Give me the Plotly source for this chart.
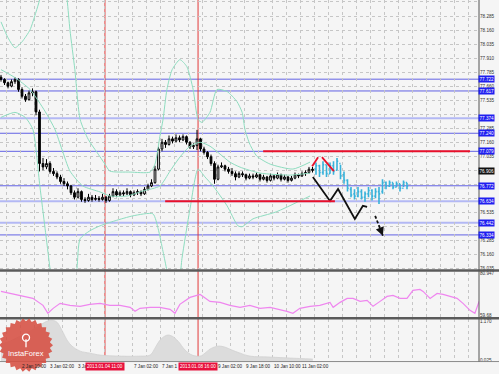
import math
import plotly.graph_objects as go
from plotly.subplots import make_subplots

W, H = 499, 374
PR = 479          # right edge of the plot area in px
PXB = 3.5         # px per bar

# ---------------- data ----------------
bar_open = [77.74,77.72,77.69,77.66,77.70,77.72,77.63,77.57,77.54,77.60,
            77.61,77.43,76.97,76.94,76.97,76.90,76.88,76.85,76.81,76.79,
            76.77,76.71,76.67,76.72,76.65,76.64,76.67,76.65,76.66,76.65,
            76.67,76.64,76.68,76.72,76.69,76.71,76.70,76.72,76.69,76.71,
            76.72,76.70,76.74,76.77,76.80,76.92,77.10,77.16,77.14,77.19,
            77.17,77.20,77.18,77.21,77.16,77.12,77.13,77.19,77.10,77.07,
            77.03,76.97,76.83,76.94,76.95,76.92,76.90,76.88,76.85,76.88,
            76.87,76.84,76.86,76.85,76.87,76.83,76.85,76.82,76.86,76.84,
            76.87,76.83,76.85,76.82,76.84,76.87,76.86,76.88,76.89,76.92]
bar_high = [77.76,77.73,77.70,77.72,77.74,77.73,77.65,77.59,77.62,77.64,
            77.62,77.45,77.02,77.01,76.99,76.93,76.90,76.87,76.84,76.81,
            76.78,76.73,76.75,76.73,76.67,76.70,76.69,76.69,76.68,76.70,
            76.68,76.70,76.75,76.74,76.73,76.73,76.75,76.73,76.73,76.74,
            76.73,76.76,76.79,76.83,76.95,77.12,77.19,77.18,77.22,77.21,
            77.23,77.22,77.23,77.22,77.17,77.15,77.27,77.20,77.12,77.08,
            77.05,76.99,76.96,76.98,76.96,76.94,76.93,76.90,76.90,76.90,
            76.88,76.88,76.88,76.89,76.88,76.87,76.86,76.88,76.87,76.89,
            76.88,76.87,76.86,76.86,76.89,76.88,76.90,76.91,76.94,76.94]
bar_low = [77.70,77.67,77.64,77.65,77.68,77.61,77.55,77.52,77.53,77.57,
           77.40,76.90,76.91,76.92,76.88,76.86,76.83,76.79,76.77,76.74,
           76.69,76.65,76.66,76.63,76.62,76.63,76.63,76.64,76.63,76.64,
           76.62,76.63,76.67,76.67,76.68,76.68,76.69,76.67,76.68,76.69,
           76.68,76.69,76.73,76.76,76.79,76.91,77.08,77.11,77.13,77.15,
           77.16,77.16,77.17,77.14,77.10,77.10,77.09,77.08,77.05,77.01,
           76.95,76.79,76.82,76.93,76.90,76.88,76.86,76.82,76.84,76.85,
           76.82,76.83,76.83,76.84,76.81,76.82,76.80,76.81,76.82,76.83,
           76.81,76.82,76.80,76.81,76.83,76.84,76.85,76.86,76.88,76.89]
bar_close = [77.72,77.69,77.66,77.70,77.72,77.63,77.57,77.54,77.60,77.61,
             77.43,76.97,76.94,76.97,76.90,76.88,76.85,76.81,76.79,76.77,
             76.71,76.67,76.72,76.65,76.64,76.67,76.65,76.66,76.65,76.67,
             76.64,76.68,76.72,76.69,76.71,76.70,76.72,76.69,76.71,76.72,
             76.70,76.74,76.77,76.80,76.92,77.10,77.16,77.14,77.19,77.17,
             77.20,77.18,77.21,77.16,77.12,77.13,77.19,77.10,77.07,77.03,
             76.97,76.83,76.94,76.95,76.92,76.90,76.88,76.85,76.88,76.87,
             76.84,76.86,76.85,76.87,76.83,76.85,76.82,76.86,76.84,76.87,
             76.83,76.85,76.82,76.84,76.87,76.86,76.88,76.89,76.92,76.91]

fc_open = [76.92,76.95,76.89,76.96,76.88,76.95,76.91,76.97,76.87,76.82,76.74,76.70,76.68,76.72,
           76.67,76.70,76.73,76.68,76.72,76.72,76.80,76.77,76.80,76.76,76.79,76.75,76.80]
fc_high = [76.98,76.96,76.99,76.96,76.98,76.99,77.02,76.96,76.90,76.83,76.76,76.74,76.76,76.74,
           76.72,76.76,76.74,76.75,76.76,76.83,76.81,76.82,76.80,76.81,76.79,76.82,76.80]
fc_low = [76.87,76.85,76.87,76.85,76.88,76.87,76.91,76.83,76.79,76.72,76.67,76.65,76.67,76.65,
          76.63,76.67,76.64,76.66,76.61,76.70,76.74,76.76,76.74,76.76,76.72,76.76,76.74]
fc_close = [76.95,76.89,76.96,76.88,76.95,76.90,76.99,76.86,76.82,76.75,76.69,76.68,76.72,76.67,
            76.70,76.73,76.68,76.72,76.70,76.80,76.77,76.80,76.76,76.79,76.75,76.80,76.77]

bb_up_x = [0,2,4,6,8.3,10,11,12.6,15.4,17.4,18.9,19.7,21.1,22.6,24.9,27.4,29.7,31.1,36.9,42.6,
           44,45.4,46.3,47.4,48.9,51.1,53.1,54.9,56.3,57.4,59.7,61.7,64.6,67.4,68.9,69.7,71.1,
           73.1,76.9,83.4,88.3]
bb_up = [78.233,78.091,78.002,78.055,78.162,78.321,78.428,78.78,78.96,78.78,78.428,78.162,
         77.807,77.364,77.187,77.071,76.965,76.903,76.894,76.894,76.965,77.213,77.364,77.630,
         77.807,77.896,77.834,77.630,77.364,77.337,77.426,77.630,77.612,77.523,77.426,77.275,
         77.142,77.036,76.965,76.921,76.983]
bb_mid_x = [0,4,8.3,12.6,15.4,17.4,19.7,23.4,28.3,31.1,36,40.6,45.4,48.3,51.1,54,56.9,59.7,
            62.6,65.4,68.3,74,82.6,88.3]
bb_mid = [77.807,77.736,77.630,77.435,77.275,77.098,76.903,76.770,76.717,76.681,76.681,76.726,
          76.770,76.903,77.027,77.125,77.160,77.125,77.054,76.983,76.938,76.885,76.867,76.885]
bb_lo_x = [0,4,6.9,9.1,11.1,12.6,14,15.4,18.3,20.3,21.7,22.6,25.4,28.3,32.6,37.7,43.4,44.9,
           46.3,47.4,48.9,50.3,51.7,54,56.3,58.3,60.6,64.6,67.7,68.9,72,78.6,88.3]
bb_lo = [77.382,77.426,77.382,77.275,76.770,76.389,76.034,75.679,75.502,75.679,76.034,76.300,
         76.371,76.415,76.460,76.504,76.522,76.389,76.185,76.016,75.768,75.768,76.123,76.566,
         76.921,76.850,76.770,76.593,76.415,76.407,76.477,76.539,76.681]

osc_x = [0,2.6,5.4,9.1,12,13.4,14.9,16.9,19.7,22.6,25.4,28.3,31.1,34,36.9,38.3,39.7,42.6,45.4,
         48.3,49.7,51.1,54,56.9,59.7,62.6,65.4,68.3,71.1,74,76.9,79.7,81.7,83.4,85.4,88.3,91.1,
         94,94.9,96.9,98.9,100.6,102.6,104.6,106.3,108.3,110.3,112,114,116,117.7,119.7,120.6,
         122.6,124.6,126.3,128.3,130.3,132,134,135.4,136.6]
osc = [71.83,70.82,69.81,68.29,64.74,60.69,63.22,65.76,64.74,64.24,65.25,65.76,64.74,64.74,
       63.73,61.70,63.22,63.73,63.73,62.72,60.69,65.25,68.79,70.31,66.77,66.26,64.74,63.73,
       64.74,63.22,63.73,62.72,61.70,60.69,63.22,64.24,64.74,66.26,63.73,66.26,68.29,68.29,
       66.77,67.28,64.24,66.77,69.30,69.81,68.29,68.29,72.34,72.84,71.83,68.29,70.82,70.31,
       69.30,68.29,65.76,62.21,60.69,66.77]

hist_x = [0,2.6,5.4,8.3,11.1,13.1,14.6,16,17.4,18.9,20.3,22.6,25.4,28.3,34,39.7,42.6,44,45.4,
          47.4,48.9,50.6,52.6,54.6,56.9,58.3,59.7,62,64,66,68.3,71.1,76.9,82.6,89.1]
hist = [0.495,0.583,0.730,0.876,1.053,1.170,1.199,1.141,0.906,0.612,0.436,0.289,0.230,0.172,
        0.142,0.142,0.172,0.377,0.612,0.759,0.730,0.583,0.319,0.172,0.142,0.230,0.348,0.436,
        0.407,0.319,0.230,0.142,0.113,0.084,0.054]

levels = [77.722, 77.617, 77.374, 77.240, 77.079, 76.772, 76.634, 76.442, 76.334]
level_light = [False, False, True, False, False, False, True, True, False]
current_price = 76.906

red_segments = [(74.9, 134.0, 77.079), (46.9, 95.4, 76.634)]
zig_x = [89.1, 94.0, 96.3, 101.1, 103.4, 104.6]
zig_y = [76.850, 76.637, 76.743, 76.477, 76.593, 76.584]
arrow_x = [106.9, 109.1]
arrow_y = [76.504, 76.327]
redzig_x = [88.9, 90.6, None, 91.7, 95.1]
redzig_y = [76.947, 77.027, None, 77.027, 76.903]

vlines = [29.7, 56.3]
vline_labels = ["2013.01.04 11:00", "2013.01.08 16:00"]
time_ticks = [-4.6, 5.4, 13.4, 21.4, 37.4, 45.4, 61.4, 69.4, 77.4, 85.4]
# labels partly hidden behind the red time boxes are shown only up to the box edge
time_labels = ["28 Dec 18:00", "2 Jan 10:00", "3 Jan 02:00", "3 Ja", "7 Jan 02:00",
               "7 Jan 1", "9 Jan 02:00", "9 Jan 18:00", "10 Jan 10:00", "11 Jan 02:00"]

main_ticks = [76.035 + 0.125 * k for k in range(20)]

# ---------------- figure ----------------
def dom(top, bot):
    return [1 - bot / H, 1 - top / H]

fig = make_subplots(rows=3, cols=1, shared_xaxes=True, vertical_spacing=0)

band_line = dict(color="#8edcbf", width=1, shape="spline", smoothing=0.6)
for bx, by in [(bb_up_x, bb_up), (bb_mid_x, bb_mid), (bb_lo_x, bb_lo)]:
    fig.add_trace(go.Scatter(x=bx, y=by, mode="lines", hoverinfo="skip", line=band_line), 1, 1)

fig.add_trace(go.Candlestick(x=list(range(len(bar_close))), open=bar_open, high=bar_high,
                             low=bar_low, close=bar_close, whiskerwidth=0,
                             increasing=dict(line=dict(color="#000000", width=1), fillcolor="#ffffff"),
                             decreasing=dict(line=dict(color="#000000", width=1), fillcolor="#000000"),
                             hoverinfo="skip"), 1, 1)
n0 = len(bar_close)
fig.add_trace(go.Ohlc(x=list(range(n0, n0 + len(fc_close))), open=fc_open, high=fc_high,
                      low=fc_low, close=fc_close, tickwidth=0.35,
                      increasing=dict(line=dict(color="#38b2da", width=1.6)),
                      decreasing=dict(line=dict(color="#38b2da", width=1.6)),
                      hoverinfo="skip"), 1, 1)

fig.add_trace(go.Scatter(x=zig_x, y=zig_y, mode="lines", hoverinfo="skip",
                         line=dict(color="#111111", width=1.8)), 1, 1)
fig.add_trace(go.Scatter(x=arrow_x, y=arrow_y, mode="lines", hoverinfo="skip",
                         line=dict(color="#111111", width=1.8, dash="3px,2px")), 1, 1)
fig.add_trace(go.Scatter(x=redzig_x, y=redzig_y, mode="lines", hoverinfo="skip",
                         line=dict(color="#e8102a", width=1.8)), 1, 1)

fig.add_trace(go.Scatter(x=osc_x, y=osc, mode="lines", hoverinfo="skip",
                         line=dict(color="#ef86ef", width=1.2)), 2, 1)
fig.add_trace(go.Scatter(x=hist_x, y=hist, mode="lines", fill="tozeroy", hoverinfo="skip",
                         fillcolor="#dcdcdc", line=dict(color="#d2d2d2", width=0.8, shape="spline")), 3, 1)

# right-axis tick labels; those hidden under a level box are left blank
covered = [current_price] + levels
main_text = [("" if min(abs(t - c) for c in covered) < 0.037 else f"{t:.3f}") for t in main_ticks]

xr = [-1 / PXB, (PR - 1) / PXB]
xcommon = dict(range=xr, showgrid=True, gridcolor="#c6c6c6", griddash="dot", gridwidth=1,
               tick0=1.43, dtick=4, showticklabels=False, ticks="", zeroline=False,
               showline=False, domain=[0, PR / W], rangeslider=dict(visible=False))
tf = dict(size=4.6, color="#333333", family="Liberation Sans")
fig.update_layout(
    width=W, height=H, margin=dict(l=0, r=0, t=0, b=0), showlegend=False,
    paper_bgcolor="#f5f5f5", plot_bgcolor="#f5f5f5",
    xaxis=xcommon, xaxis2=xcommon, xaxis3=xcommon,
    yaxis=dict(domain=dom(0, 271), range=[76.0253, 78.4277], side="right",
               tickvals=main_ticks, ticktext=main_text, tickfont=tf, ticks="",
               showgrid=True, gridcolor="#c6c6c6", griddash="dot", zeroline=False,
               showline=False),
    yaxis2=dict(domain=dom(273, 319), range=[58.66, 81.96], side="right",
                tickvals=[80.947, 59.68], ticktext=["80.947", "59.68"], tickfont=tf,
                ticks="", showgrid=False, zeroline=False),
    yaxis3=dict(domain=dom(321, 363), range=[-0.004, 1.229], side="right",
                tickvals=[1.170, 0.025], ticktext=["1.170", "0.025"], tickfont=tf,
                ticks="", showgrid=False, zeroline=False),
)

shapes = []
for lv, light in zip(levels, level_light):
    shapes.append(dict(type="line", xref="paper", x0=0, x1=PR / W, yref="y", y0=lv, y1=lv,
                       layer="between",
                       line=dict(color="#b3b8f4" if light else "#6262e4",
                                 width=2 if light else 1)))
for xa, xb, lv in red_segments:
    shapes.append(dict(type="line", xref="x", x0=xa, x1=xb, yref="y", y0=lv, y1=lv,
                       layer="above", line=dict(color="#e8102a", width=2)))
for vx in vlines:
    shapes.append(dict(type="line", xref="x", x0=vx, x1=vx, yref="paper", y0=1 - 363 / H, y1=1,
                       layer="between", line=dict(color="#e23a3a", width=1)))
for yy, wd, col in [(272, 2.5, "#5a5a5a"), (320, 2.5, "#5a5a5a"), (363.5, 1, "#8a8a8a")]:
    shapes.append(dict(type="line", xref="paper", x0=0, x1=1, yref="paper",
                       y0=1 - yy / H, y1=1 - yy / H, layer="above", line=dict(color=col, width=wd)))
shapes.append(dict(type="line", xref="paper", x0=PR / W, x1=PR / W, yref="paper",
                   y0=1 - 363.5 / H, y1=1, layer="above", line=dict(color="#555555", width=1)))

# logo badge
cx, cy, rO, rI, nt = 26, 347, 27, 24, 26
pts = []
for k in range(2 * nt):
    r = rO if k % 2 == 0 else rI
    a = math.pi * k / nt
    pts.append(((cx + r * math.cos(a)) / W, 1 - (cy + r * math.sin(a)) / H))
path = "M " + " L ".join(f"{px:.5f},{py:.5f}" for px, py in pts) + " Z"
shapes.append(dict(type="path", xref="paper", yref="paper", path=path, layer="above",
                   fillcolor="rgba(214,78,66,0.88)", line=dict(width=0)))
shapes.append(dict(type="circle", xref="paper", yref="paper", x0=22.5 / W, x1=29.5 / W,
                   y0=1 - 343 / H, y1=1 - 336 / H, layer="above",
                   line=dict(color="white", width=1.3)))
shapes.append(dict(type="line", xref="paper", yref="paper", x0=26 / W, x1=26 / W,
                   y0=1 - 349 / H, y1=1 - 341 / H, layer="above",
                   line=dict(color="white", width=1.3)))

ann = []
for lv in levels:
    ann.append(dict(xref="paper", x=478 / W, xanchor="left", yref="y", y=lv, yanchor="middle",
                    text=f"{lv:.3f}", showarrow=False, bgcolor="#1f1ff0", borderpad=0.5,
                    font=dict(size=4.6, color="white", family="Liberation Sans")))
ann.append(dict(xref="paper", x=478 / W, xanchor="left", yref="y", y=current_price,
                yanchor="middle", text=f"{current_price:.3f}", showarrow=False,
                bgcolor="#111111", borderpad=0.5,
                font=dict(size=4.6, color="white", family="Liberation Sans")))
for tx, tl in zip(time_ticks, time_labels):
    ann.append(dict(xref="x", x=tx, xanchor="left", yref="paper", y=1 - 368.5 / H,
                    yanchor="middle", text=tl, showarrow=False,
                    font=dict(size=4.6, color="#222222", family="Liberation Sans")))
for vx, vl in zip(vlines, vline_labels):
    ann.append(dict(xref="x", x=vx, xanchor="center", yref="paper", y=1 - 368.5 / H,
                    yanchor="middle", text=vl, showarrow=False, bgcolor="#e8103c", borderpad=1,
                    font=dict(size=4.6, color="white", family="Liberation Sans")))
ann.append(dict(xref="x", yref="y", x=arrow_x[1], y=arrow_y[1], axref="x", ayref="y",
                ax=arrow_x[0] + 0.6 * (arrow_x[1] - arrow_x[0]),
                ay=arrow_y[0] + 0.6 * (arrow_y[1] - arrow_y[0]),
                text="", showarrow=True, arrowhead=2, arrowsize=1.2, arrowwidth=1.4,
                arrowcolor="#111111"))
ann.append(dict(xref="paper", yref="paper", x=26 / W, y=1 - 355 / H, xanchor="center",
                yanchor="middle", text="InstaForex", showarrow=False,
                font=dict(size=7.5, color="white", family="Liberation Sans")))

fig.update_layout(shapes=shapes, annotations=ann)
fig.write_html("out.html")
